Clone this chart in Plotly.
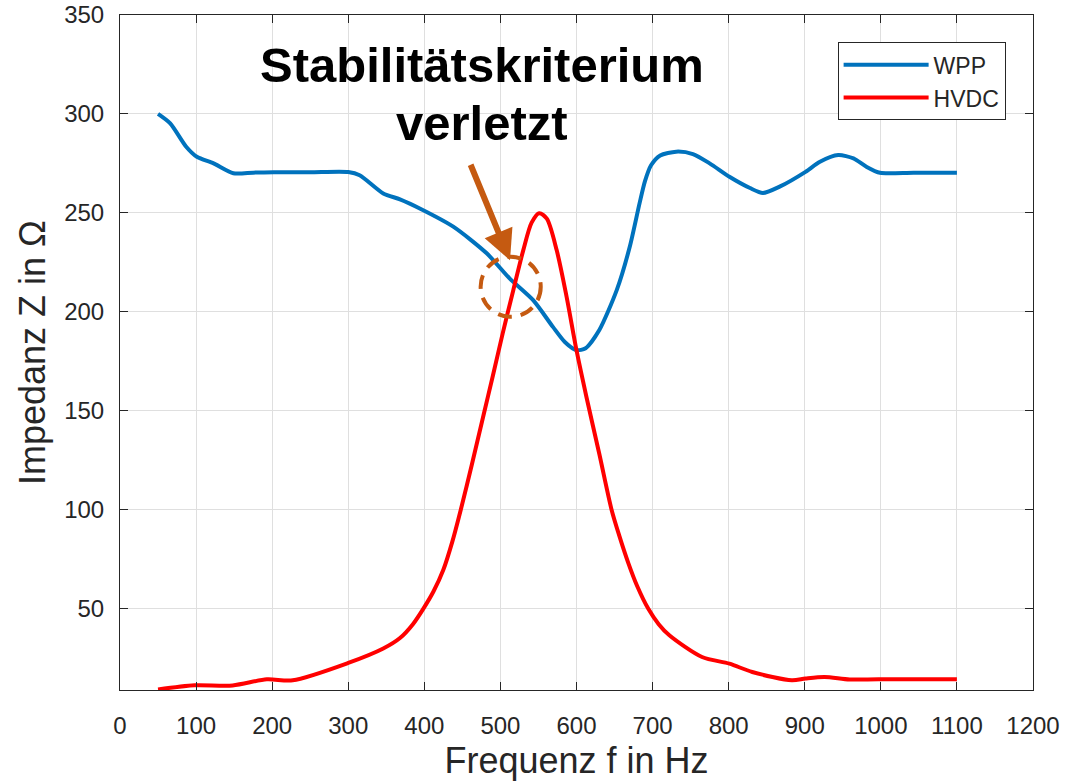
import plotly.graph_objects as go

# WPP impedance (blue)
wpp_f = [50, 66, 87, 101, 123, 149, 175, 202, 250, 300, 315, 346, 368, 394, 438, 482,
         512, 543, 569, 585, 600, 612, 630, 653, 670, 683, 690, 698, 710, 731, 753, 775,
         801, 828, 845, 867, 901, 920, 944, 964, 981, 999, 1043, 1100]
wpp_z = [300, 295.2, 283.4, 278.3, 275, 270, 270.3, 270.5, 270.5, 270.6, 269, 259.8, 256.8,
         252.2, 243, 229.5, 216.8, 205.8, 192.3, 184.5, 180.5, 181.5, 190.7, 211, 232.8, 255,
         266, 274, 279, 280.9, 279.7, 275, 268.2, 262.5, 260, 263.2, 270.7, 275.8, 279.2,
         277.5, 273.3, 270.2, 270.3, 270.2]

# HVDC impedance (red)
hvdc_f = [50, 98, 148, 193, 227, 300, 346, 368, 385, 399, 412, 425, 437, 448, 462,
          478, 490, 503, 517, 530, 541, 551, 561, 574, 587, 600, 613, 630, 646, 656, 668, 680,
          694, 708, 722, 765, 801, 831, 883, 901, 926, 959, 997, 1100]
hvdc_z = [9, 11.1, 11, 14.1, 13.6, 22.4, 29.7, 35, 42, 50, 58.5, 69.5, 84, 100,
          122, 148, 167.5, 189, 211, 231, 245, 249.8, 247, 231, 207.5, 180.5, 157, 128, 100, 87,
          73, 61, 50, 42, 36.4, 25.4, 22, 17.8, 13.6, 14.5, 15.3, 14, 14.1, 14.1]

x_ticks = list(range(0, 1201, 100))
y_ticks = list(range(50, 351, 50))

FONT = "Liberation Sans, Arial, sans-serif"
GRAY = "#262626"
ORANGE = "#C55A11"

fig = go.Figure()
fig.add_trace(go.Scatter(x=wpp_f, y=wpp_z, mode="lines", name="WPP",
                         line=dict(color="#0072BD", width=4, shape="spline", smoothing=0.7)))
fig.add_trace(go.Scatter(x=hvdc_f, y=hvdc_z, mode="lines", name="HVDC",
                         line=dict(color="#FF0000", width=4, shape="spline", smoothing=0.8)))

axis_common = dict(
    showgrid=True, gridcolor="#dfdfdf", gridwidth=1,
    showline=True, linecolor=GRAY, linewidth=1, mirror="ticks",
    ticks="inside", ticklen=8, tickcolor=GRAY,
    tickfont=dict(family=FONT, size=24, color=GRAY),
    zeroline=False, automargin=False,
)

fig.update_xaxes(range=[0, 1200], tickvals=x_ticks, ticklabelstandoff=14,
                 title=dict(text="Frequenz f in Hz", font=dict(family=FONT, size=36, color=GRAY),
                            standoff=10),
                 **axis_common)
fig.update_yaxes(range=[8.7, 350], tickvals=y_ticks, ticklabelstandoff=10,
                 title=dict(text="Impedanz Z in Ω", font=dict(family=FONT, size=36, color=GRAY),
                            standoff=7),
                 **axis_common)

# Annotation text
fig.add_annotation(x=0.396, y=0.926, xref="paper", yref="paper", xanchor="center", yanchor="middle",
                   text="<b>Stabilitätskriterium</b>", showarrow=False,
                   font=dict(family=FONT, size=49, color="black"))
fig.add_annotation(x=0.396, y=0.840, xref="paper", yref="paper", xanchor="center", yanchor="middle",
                   text="<b>verletzt</b>", showarrow=False,
                   font=dict(family=FONT, size=49, color="black"))

# Arrow
fig.add_annotation(x=512.6, y=226, xref="x", yref="y", ax=-40, ay=-97, axref="pixel", ayref="pixel",
                   text="", showarrow=True, arrowhead=2, arrowsize=1.0, arrowwidth=6,
                   arrowcolor=ORANGE)

# Dashed circle
fig.add_shape(type="circle", xref="x", yref="y", x0=474, x1=553, y0=197.4, y1=227.8,
              line=dict(color=ORANGE, width=4, dash="14px,9px"))

fig.update_layout(
    width=1066, height=784,
    margin=dict(l=120, r=33, t=15, b=94),
    paper_bgcolor="white", plot_bgcolor="white",
    font=dict(family=FONT, color=GRAY),
    legend=dict(x=0.970, y=0.9596, xanchor="right", yanchor="top",
                bgcolor="white", bordercolor=GRAY, borderwidth=1,
                font=dict(family=FONT, size=23, color=GRAY),
                itemwidth=85, tracegroupgap=0),
    showlegend=True,
)

fig.write_html("out.html")
